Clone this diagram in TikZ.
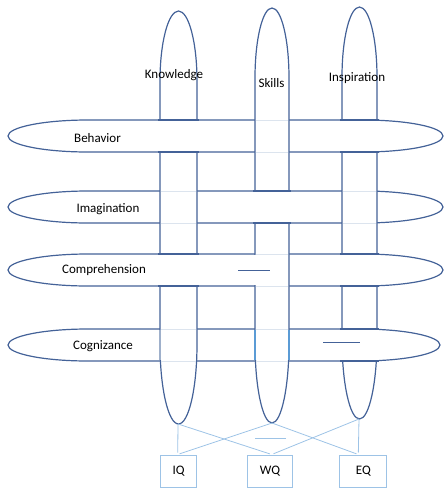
\documentclass[tikz,border=0pt]{standalone}
\usepackage{fontspec}
\setmainfont{Carlito}
\usepackage{tikz}
\definecolor{edge}{RGB}{68, 98, 152}
\definecolor{link}{RGB}{157, 195, 230}
\definecolor{lite}{RGB}{220, 228, 238}
\definecolor{bright}{RGB}{91, 155, 213}
\tikzset{
  band/.style={draw=edge, line width=1.2pt, fill=white},
  rim/.style={draw=edge, line width=1.2pt},
  faint/.style={draw=lite, line width=1pt},
  wire/.style={draw=link, line width=0.8pt, shorten >=2pt},
  qbox/.style={rectangle, draw=link, line width=1pt, minimum height=32pt, inner sep=0pt, font=\fontsize{13}{15}\selectfont},
  word/.style={inner sep=0pt, font=\fontsize{13}{15}\selectfont}
}

\begin{document}
\begin{tikzpicture}[x=1pt, y=1pt]
\useasboundingbox (0,0) rectangle (444,-488);
% horizontal bands
\draw [band] (88,-120) -- (363,-120) arc[start angle=90, end angle=-90, x radius=80, y radius=16] -- (88,-152) arc[start angle=270, end angle=90, x radius=80, y radius=16] -- cycle;
\draw [band] (88,-191) -- (363,-191) arc[start angle=90, end angle=-90, x radius=80, y radius=16] -- (88,-223) arc[start angle=270, end angle=90, x radius=80, y radius=16] -- cycle;
\draw [band] (88,-254) -- (363,-254) arc[start angle=90, end angle=-90, x radius=80, y radius=16] -- (88,-286) arc[start angle=270, end angle=90, x radius=80, y radius=16] -- cycle;
\draw [band] (88,-329) -- (360,-329) arc[start angle=90, end angle=-90, x radius=80, y radius=16] -- (88,-361) arc[start angle=270, end angle=90, x radius=80, y radius=16] -- cycle;
% vertical bands
\draw [band] (160,-344) -- (160,-81) arc[start angle=180, end angle=0, x radius=18.5, y radius=70] -- (197,-344) arc[start angle=0, end angle=-180, x radius=18.5, y radius=80] -- cycle;
\draw [band] (255,-343) -- (255,-78) arc[start angle=180, end angle=0, x radius=17, y radius=70] -- (289,-343) arc[start angle=0, end angle=-180, x radius=17, y radius=80] -- cycle;
\draw [band] (342,-339) -- (342,-77) arc[start angle=180, end angle=0, x radius=17.5, y radius=70] -- (377,-339) arc[start angle=0, end angle=-180, x radius=17.5, y radius=80] -- cycle;
\coordinate (kbot) at (178,-424);
\coordinate (sbot) at (272,-423);
\coordinate (ibot) at (359,-419);
% rows lying on top
\fill [white] (158,-120) rectangle (199,-152);
\draw [rim] (158,-120) -- (199,-120) (158,-152) -- (199,-152);
\fill [white] (340,-120) rectangle (379,-152);
\draw [rim] (340,-120) -- (379,-120) (340,-152) -- (379,-152);
\fill [white] (253,-191) rectangle (291,-223);
\draw [rim] (253,-191) -- (291,-191) (253,-223) -- (291,-223);
\fill [white] (158,-254) rectangle (199,-286);
\draw [rim] (158,-254) -- (199,-254) (158,-286) -- (199,-286);
\fill [white] (340,-254) rectangle (379,-286);
\draw [rim] (340,-254) -- (379,-254) (340,-286) -- (379,-286);
\fill [white] (340,-329) rectangle (379,-361);
\draw [rim] (340,-329) -- (379,-329) (340,-361) -- (379,-361);
% columns lying on top
\draw [faint] (255.7,-120) -- (288.3,-120) (255.7,-152) -- (288.3,-152);
\draw [faint] (160.7,-191) -- (196.3,-191) (160.7,-223) -- (196.3,-223);
\draw [faint] (342.7,-191) -- (376.3,-191) (342.7,-223) -- (376.3,-223);
\draw [faint] (255.7,-254) -- (288.3,-254) (255.7,-286) -- (288.3,-286);
\draw [faint] (160.7,-329) -- (196.3,-329) (160.7,-361) -- (196.3,-361);
\draw [faint] (255.7,-329) -- (288.3,-329) (255.7,-361) -- (288.3,-361);
\draw [white, line width=1.8pt] (255,-254.7) -- (255,-285.3);
\draw [lite!60!edge, line width=1.2pt] (160,-329.7) -- (160,-360.3);
\draw [bright, line width=1.4pt] (255,-329.7) -- (255,-360.3) (289,-329.7) -- (289,-360.3);
% stray strokes
\draw [rim, line width=1pt] (238,-270.5) -- (270,-270.5);
\draw [rim, line width=1pt] (323,-342.5) -- (360,-342.5);
\draw [draw=link, line width=0.8pt] (255,-438) -- (286,-438);
% labels
\node (know) [word] at (174,-75) {Knowledge};
\node (skil) [word] at (271.5,-83) {Skills};
\node (insp) [word] at (357,-78) {Inspiration};
\node (beh) [word] at (97.5,-138) {Behavior};
\node (ima) [word] at (108,-209) {Imagination};
\node (comp) [word] at (104,-270.5) {Comprehension};
\node (cog) [word] at (103,-346.5) {Cognizance};
% quotient boxes
\node (IQ) [qbox, minimum width=36pt] at (178.7,-471) {IQ};
\node (WQ) [qbox, minimum width=45pt] at (270,-471) {WQ};
\node (EQ) [qbox, minimum width=47pt] at (363.3,-471) {EQ};
\draw [wire] (kbot) -- ([xshift=-1pt]IQ.north);
\draw [wire] (kbot) -- ([xshift=1.7pt]WQ.north);
\draw [wire] (sbot) -- ([xshift=-1pt]IQ.north);
\draw [wire] (sbot) -- ([xshift=-5pt]EQ.north);
\draw [wire] (ibot) -- ([xshift=1.7pt]WQ.north);
\draw [wire] (ibot) -- ([xshift=-5pt]EQ.north);
\end{tikzpicture}
\end{document}
